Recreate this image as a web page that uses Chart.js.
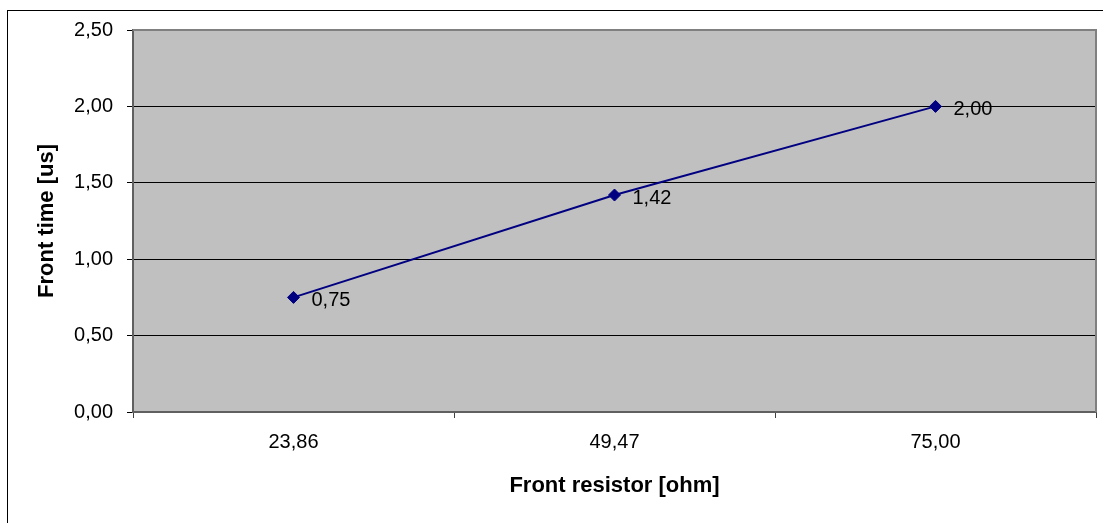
<!DOCTYPE html>
<html>
<head>
<meta charset="utf-8">
<script src="https://cdn.jsdelivr.net/npm/chart.js@4/dist/chart.umd.min.js"></script>
<style>
  html, body { margin: 0; padding: 0; background: #ffffff; }
  #wrap { position: relative; width: 1103px; height: 523px; }
</style>
</head>
<body>
<div id="wrap"><canvas id="c" width="1103" height="523"></canvas></div>
<script>
const categories = ['23,86', '49,47', '75,00'];
const frontTime = [0.75, 1.42, 2.00];
const dataLabels = ['0,75', '1,42', '2,00'];
const yTickLabels = ['0,00', '0,50', '1,00', '1,50', '2,00', '2,50'];
const yMin = 0, yMax = 2.5, yStep = 0.5;
const xTitle = 'Front resistor [ohm]';
const yTitle = 'Front time [us]';

const FONT = "'Liberation Sans', Arial, sans-serif";

const framePlugin = {
  id: 'frame',
  beforeDraw(chart) {
    const {ctx, chartArea: a} = chart;
    ctx.save();
    ctx.fillStyle = '#ffffff';
    ctx.fillRect(0, 0, chart.width, chart.height);
    ctx.fillStyle = '#c0c0c0';
    ctx.fillRect(a.left, a.top, a.right - a.left, a.bottom - a.top);
    ctx.restore();
  },
  afterDraw(chart) {
    const {ctx, chartArea: a} = chart;
    ctx.save();
    ctx.strokeStyle = '#808080';
    ctx.lineWidth = 2;
    ctx.beginPath();
    ctx.moveTo(a.left, a.top);
    ctx.lineTo(a.right, a.top);
    ctx.lineTo(a.right, a.bottom);
    ctx.stroke();
    ctx.strokeStyle = '#000000';
    ctx.lineWidth = 1;
    ctx.strokeRect(7.5, 10.5, 1110, 530);
    ctx.restore();
  }
};

const labelPlugin = {
  id: 'pointLabels',
  afterDatasetsDraw(chart) {
    const {ctx} = chart;
    const meta = chart.getDatasetMeta(0);
    ctx.save();
    ctx.font = '20px ' + FONT;
    ctx.fillStyle = '#000000';
    ctx.textAlign = 'left';
    ctx.textBaseline = 'middle';
    meta.data.forEach((pt, i) => {
      ctx.fillText(dataLabels[i], pt.x + 18, pt.y + 3);
    });
    ctx.restore();
  }
};

new Chart(document.getElementById('c'), {
  type: 'line',
  data: {
    labels: categories,
    datasets: [{
      data: frontTime,
      borderColor: '#000080',
      backgroundColor: '#000080',
      borderWidth: 2,
      pointStyle: 'rectRot',
      pointRadius: 6,
      pointHoverRadius: 6,
      pointBorderWidth: 1,
      pointBorderColor: '#000080',
      pointBackgroundColor: '#000080',
      tension: 0,
      fill: false
    }]
  },
  options: {
    responsive: false,
    animation: false,
    devicePixelRatio: 1,
    layout: { padding: { top: 30, right: 6, left: 0, bottom: 0 } },
    plugins: {
      legend: { display: false },
      tooltip: { enabled: false },
      title: { display: false }
    },
    scales: {
      x: {
        type: 'category',
        offset: true,
        afterFit(s) { s.height = 111; },
        grid: {
          offset: true,
          drawOnChartArea: false,
          drawTicks: true,
          tickLength: 6,
          color: '#404040',
          tickColor: '#404040'
        },
        border: { display: true, color: '#606060', width: 2 },
        ticks: {
          color: '#000000',
          font: { family: FONT, size: 20 },
          padding: 12,
          maxRotation: 0
        },
        title: {
          display: true,
          text: xTitle,
          color: '#000000',
          font: { family: FONT, size: 22, weight: 'bold' },
          padding: { top: 0, bottom: 24 }
        }
      },
      y: {
        min: yMin,
        max: yMax,
        afterFit(s) { s.width = 133; },
        ticks: {
          stepSize: yStep,
          color: '#000000',
          font: { family: FONT, size: 20 },
          padding: 14,
          callback(v, i) { return yTickLabels[i]; }
        },
        grid: {
          drawTicks: true,
          tickLength: 6,
          color(ctx) { return ctx.tick && ctx.tick.value === yMax ? 'rgba(0,0,0,0)' : '#000000'; },
          tickColor: '#000000',
          lineWidth: 1
        },
        border: { display: true, color: '#606060', width: 2 },
        title: {
          display: true,
          text: yTitle,
          color: '#000000',
          font: { family: FONT, size: 22, weight: 'bold' },
          padding: { top: 34, bottom: 0 }
        }
      }
    }
  },
  plugins: [framePlugin, labelPlugin]
});
</script>
</body>
</html>
